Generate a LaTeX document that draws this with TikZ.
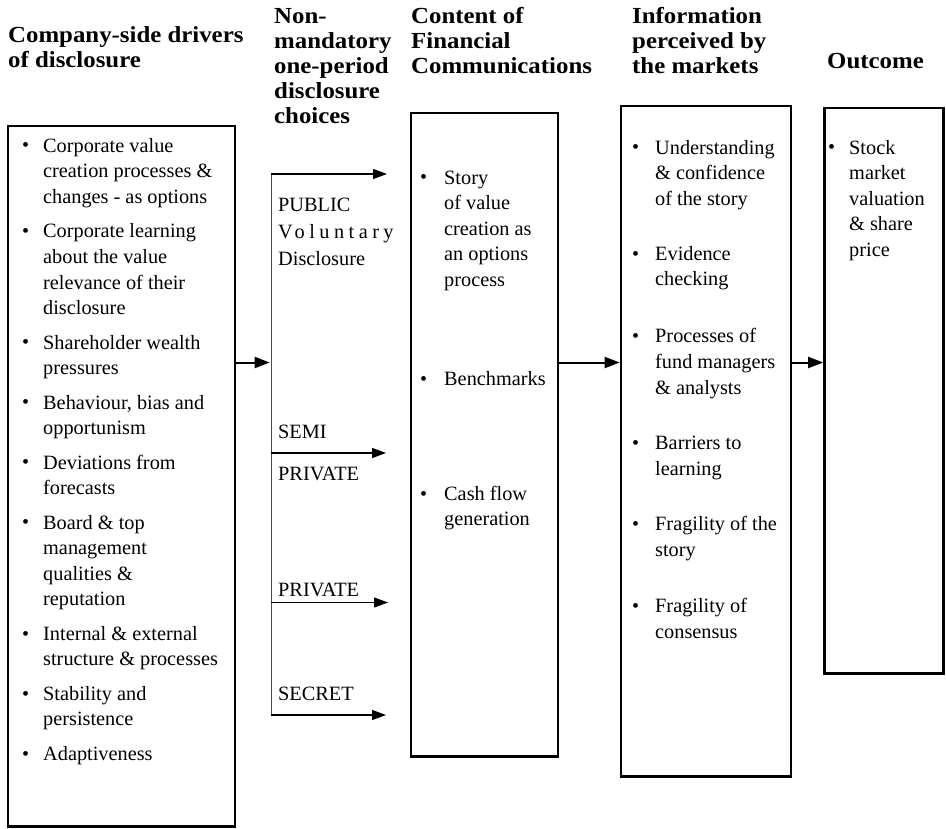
\documentclass[tikz,border=0pt]{standalone}
\usepackage{fontspec}
\setmainfont{Liberation Serif}[BoldFeatures={FakeStretch=1.08}]
\usetikzlibrary{arrows.meta}
\newcommand\bodyat[4]{\node[itm] (#1) at (#2,{#3-17.92}) {\strut#4};}
\newcommand\bulat[3]{\node[bul] (#1) at (#2,#3) {\textbullet};}
\newcommand\hdrat[4]{\node[hdr] (#1) at (#2,{#3-17.5}) {\strut#4};}
\begin{document}
\begin{tikzpicture}[x=1pt,y=-1pt,
  itm/.style={font=\fontsize{20.3}{25.6}\selectfont, align=left, inner sep=0pt, anchor=north west},
  bul/.style={font=\fontsize{20}{25.6}\selectfont, inner sep=0pt, anchor=base west},
  hdr/.style={font=\fontsize{23}{25}\selectfont\bfseries, align=left, inner sep=0pt, anchor=north west},
  lbl/.style={font=\fontsize{20.3}{25.6}\selectfont, inner sep=0pt, anchor=base west},
  box/.style={draw, line width=2.6pt, inner sep=0pt, outer sep=0pt, anchor=north west},
  mainarr/.style={line width=2pt, shorten >=1.3pt, -{Triangle[length=15pt,width=11pt]}},
  choicearr/.style={line width=1.3pt, -{Triangle[length=14pt,width=10pt]}},
  vline/.style={line width=1pt, black!70},
]
\useasboundingbox (0,0) rectangle (946,829);

% headers
\hdrat{h1}{8}{42.5}{Company-side drivers\\of disclosure}
\hdrat{h2}{274}{23}{Non-\\mandatory\\one-period\\disclosure\\choices}
\hdrat{h3}{411}{23}{Content of\\Financial\\Communications}
\hdrat{h4}{632}{23}{Information\\perceived by\\the markets}
\hdrat{h5}{827}{68}{Outcome}

% boxes
\node[box, minimum width=227pt, minimum height=700.5pt] (box1) at (8,126) {};
\node[box, minimum width=147pt, minimum height=643.5pt] (box2) at (411,113) {};
\node[box, minimum width=170pt, minimum height=670.5pt] (box3) at (621,106) {};
\node[box, minimum width=119pt, minimum height=565.5pt] (box4) at (824.5,108) {};

% box 1 items
\bulat{b1a}{22}{152}\bodyat{t1a}{43}{152}{Corporate value\\creation processes \&\\changes - as options}
\bulat{b1b}{22}{237.6}\bodyat{t1b}{43}{237.6}{Corporate learning\\about the value\\relevance of their\\disclosure}
\bulat{b1c}{22}{348.8}\bodyat{t1c}{43}{348.8}{Shareholder wealth\\pressures}
\bulat{b1d}{22}{408.8}\bodyat{t1d}{43}{408.8}{Behaviour, bias and\\opportunism}
\bulat{b1e}{22}{468.8}\bodyat{t1e}{43}{468.8}{Deviations from\\forecasts}
\bulat{b1f}{22}{528.8}\bodyat{t1f}{43}{528.8}{Board \& top\\management\\qualities \&\\reputation}
\bulat{b1g}{22}{640}\bodyat{t1g}{43}{640}{Internal \& external\\structure \& processes}
\bulat{b1h}{22}{700}\bodyat{t1h}{43}{700}{Stability and\\persistence}
\bulat{b1i}{22}{760}\bodyat{t1i}{43}{760}{Adaptiveness}

% box 2 items
\bulat{b2a}{420}{184}\bodyat{t2a}{444}{184}{Story\\of value\\creation as\\an options\\process}
\bulat{b2b}{420}{385}\bodyat{t2b}{444}{385}{Benchmarks}
\bulat{b2c}{420}{500}\bodyat{t2c}{444}{500}{Cash flow\\generation}

% box 3 items
\bulat{b3a}{632}{154}\bodyat{t3a}{655}{154}{Understanding\\\& confidence\\of the story}
\bulat{b3b}{632}{260.2}\bodyat{t3b}{655}{260.2}{Evidence\\checking}
\bulat{b3c}{632}{342.8}\bodyat{t3c}{655}{342.8}{Processes of\\fund managers\\\& analysts}
\bulat{b3d}{632}{449.5}\bodyat{t3d}{655}{449.5}{Barriers to\\learning}
\bulat{b3e}{632}{530.7}\bodyat{t3e}{655}{530.7}{Fragility of the\\story}
\bulat{b3f}{632}{612.3}\bodyat{t3f}{655}{612.3}{Fragility of\\consensus}

% box 4 items
\bulat{b4a}{828}{154}\bodyat{t4a}{849}{154}{Stock\\market\\valuation\\\& share\\price}

% disclosure choices
\coordinate (vtop) at (271,174);
\coordinate (vmid) at (271,362.5);
\coordinate (vsemi) at (271,453);
\coordinate (vpriv) at (271,602.5);
\coordinate (vbot) at (271,715);
\coordinate (epub) at (387,174);
\coordinate (esemi) at (386,453);
\coordinate (epriv) at (388,602.5);
\coordinate (esec) at (386,715);

\draw[vline] (vtop) -- (vbot);
\draw[choicearr] (vtop) -- (epub);
\draw[choicearr] (vsemi) -- (esemi);
\draw[choicearr] (vpriv) -- (epriv);
\draw[choicearr] (vbot) -- (esec);

\node[lbl] (lpub) at (278,212) {PUBLIC};
\node[lbl] (lvol) at (278,239) {\addfontfeature{LetterSpace=22}Voluntary};
\node[lbl] (ldis) at (278,266) {Disclosure};
\node[lbl] (lsemi) at (278,438) {SEMI};
\node[lbl] (lpriv1) at (278,480) {PRIVATE};
\node[lbl] (lpriv2) at (278,596) {PRIVATE};
\node[lbl] (lsec) at (278,700.5) {SECRET};

% main flow arrows
\draw[mainarr] (box1.east |- vmid) -- (vmid);
\draw[mainarr] (box2.east |- vmid) -- (box3.west |- vmid);
\draw[mainarr] (box3.east |- vmid) -- (box4.west |- vmid);
\end{tikzpicture}
\end{document}
